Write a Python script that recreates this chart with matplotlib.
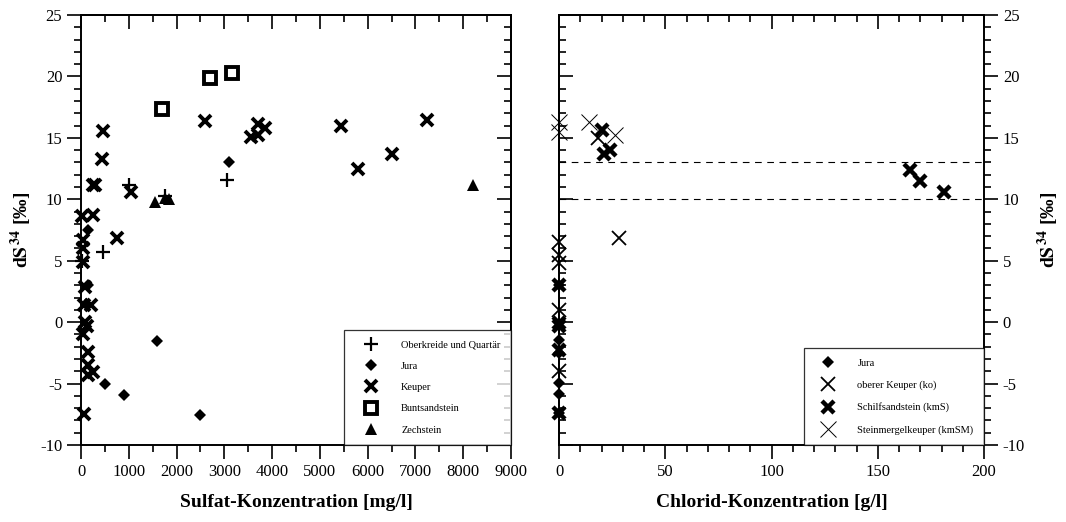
import matplotlib
matplotlib.use("Agg")
import matplotlib.pyplot as plt
from matplotlib.lines import Line2D
from matplotlib.ticker import MultipleLocator

plt.rcParams['font.family'] = ['Liberation Serif', 'DejaVu Serif']
plt.rcParams['mathtext.fontset'] = 'stix'
plt.rcParams['axes.unicode_minus'] = False

# ---------------- data: left panel (Sulfat) ----------------
ok_x = [1000, 1750, 3050, 450, 30]
ok_y = [11.2, 10.3, 11.6, 5.7, 5.0]

jura_x = [3100, 150, 150, 100, 1600, 500, 900, 2500]
jura_y = [13.0, 7.5, 3.0, 1.5, -1.5, -5.0, -5.95, -7.55]

keuper_x = [460, 440, 250, 300, 1050, 2600, 3550, 3700, 3700, 3850, 5450, 5800, 6500, 7250,
            750, 20, 250, 40, 40, 40, 80, 60, 200, 80, 120, 40, 150, 150, 250, 150, 60]
keuper_y = [15.55, 13.3, 11.2, 11.2, 10.6, 16.4, 15.1, 15.2, 16.1, 15.8, 16.0, 12.5, 13.7, 16.45,
            6.85, 8.6, 8.7, 6.7, 6.0, 4.9, 2.9, 1.4, 1.4, 0.0, -0.35, -1.0, -2.4, -3.5, -4.05, -4.3, -7.5]

bunt_x = [1700, 2700, 3150]
bunt_y = [17.35, 19.9, 20.3]

zech_x = [1550, 1750, 1850, 8200]
zech_y = [9.8, 10.1, 10.0, 11.2]

# ---------------- data: right panel (Chlorid) ----------------
rjura_x = [0, 0, 0, 0, 0, 0]
rjura_y = [3.0, -1.45, -2.5, -4.95, -5.85, -7.4]

ko_x = [18.5, 28, 0, 0, 0, 0, 0]
ko_y = [15.0, 6.85, 6.5, 5.5, 4.8, 1.0, -3.95]

kms_x = [20, 21, 24, 165, 170, 181, 0, 0, 0, 0, 0]
kms_y = [15.6, 13.7, 14.0, 12.4, 11.5, 10.6, 3.0, -0.05, -0.35, -2.3, -7.4]

kmsm_x = [0, 0, 14, 26.5]
kmsm_y = [16.3, 15.5, 16.3, 15.2]

ref_lines = [13, 10]

left_legend = ['Oberkreide und Quartär', 'Jura', 'Keuper', 'Buntsandstein', 'Zechstein']
right_legend = ['Jura', 'oberer Keuper (ko)', 'Schilfsandstein (kmS)', 'Steinmergelkeuper (kmSM)']

ylabel = r'd$\mathbf{S}^{\,\mathbf{34}}$ [‰]'

fig = plt.figure(figsize=(10.66, 5.22), dpi=100)
axL = fig.add_axes([0.076, 0.1475, 0.4034, 0.8238])
axR = fig.add_axes([0.5244, 0.1475, 0.3987, 0.8238])

st_ok = dict(marker='+', ms=10, mew=1.6, color='black', ls='none')
st_jura = dict(marker='D', ms=6.5, mew=0, color='black', ls='none')
st_keu = dict(marker='x', ms=8, mew=2.8, color='black', ls='none')
st_bunt = dict(marker='s', ms=8.5, mew=2.8, mfc='white', mec='black', ls='none')
st_zech = dict(marker='^', ms=9, mew=0, color='black', ls='none')

axL.plot(ok_x, ok_y, clip_on=False, **st_ok)
axL.plot(jura_x, jura_y, clip_on=False, **st_jura)
axL.plot(keuper_x, keuper_y, clip_on=False, **st_keu)
axL.plot(bunt_x, bunt_y, clip_on=False, **st_bunt)
axL.plot(zech_x, zech_y, clip_on=False, **st_zech)

st_rko = dict(marker='x', ms=9.5, mew=1.3, color='black', ls='none')
st_rkms = dict(marker='x', ms=8.5, mew=3.2, color='black', ls='none')
st_rkmsm = dict(marker='x', ms=11, mew=0.7, color='black', ls='none')

for y in ref_lines:
    axR.axhline(y, color='black', lw=0.8, ls=(0, (6, 5)))
axR.plot(rjura_x, rjura_y, clip_on=False, **st_jura)
axR.plot(ko_x, ko_y, clip_on=False, **st_rko)
axR.plot(kms_x, kms_y, clip_on=False, **st_rkms)
axR.plot(kmsm_x, kmsm_y, clip_on=False, **st_rkmsm)

for ax in (axL, axR):
    ax.set_ylim(-10, 25)
    for s in ax.spines.values():
        s.set_linewidth(1.4)
    ax.yaxis.set_major_locator(MultipleLocator(5))
    ax.yaxis.set_minor_locator(MultipleLocator(1))
    ax.tick_params(which='major', length=10, width=1.2, labelsize=12, direction='out')
    ax.tick_params(which='minor', length=5, width=1.2, direction='out')

axL.set_xlim(0, 9000)
axL.xaxis.set_major_locator(MultipleLocator(1000))
axL.xaxis.set_minor_locator(MultipleLocator(500))
axR.set_xlim(0, 200)
axR.xaxis.set_major_locator(MultipleLocator(50))
axR.xaxis.set_minor_locator(MultipleLocator(10))

# left panel: labelled left axis, inward ticks on top/right
axL.tick_params(axis='both', which='both', top=False, right=False)
secT = axL.secondary_xaxis('top')
secT.xaxis.set_major_locator(MultipleLocator(1000))
secT.xaxis.set_minor_locator(MultipleLocator(500))
secT.tick_params(which='major', direction='in', length=10, width=1.2, labeltop=False)
secT.tick_params(which='minor', direction='in', length=5, width=1.2)
secR = axL.secondary_yaxis('right')
secR.yaxis.set_major_locator(MultipleLocator(5))
secR.yaxis.set_minor_locator(MultipleLocator(1))
secR.tick_params(which='major', direction='in', length=10, width=1.2, labelright=False)
secR.tick_params(which='minor', direction='in', length=5, width=1.2)

# right panel: labelled right axis, inward ticks on top/left
axR.yaxis.tick_right()
axR.yaxis.set_label_position('right')
axR.tick_params(axis='both', which='both', top=False, left=False)
secT2 = axR.secondary_xaxis('top')
secT2.xaxis.set_major_locator(MultipleLocator(50))
secT2.xaxis.set_minor_locator(MultipleLocator(10))
secT2.tick_params(which='major', direction='in', length=10, width=1.2, labeltop=False)
secT2.tick_params(which='minor', direction='in', length=5, width=1.2)
secL = axR.secondary_yaxis('left')
secL.yaxis.set_major_locator(MultipleLocator(5))
secL.yaxis.set_minor_locator(MultipleLocator(1))
secL.tick_params(which='major', direction='in', length=10, width=1.2, labelleft=False)
secL.tick_params(which='minor', direction='in', length=5, width=1.2)
for s in (secT, secR, secT2, secL):
    for sp in s.spines.values():
        sp.set_linewidth(1.4)

axL.set_xlabel('Sulfat-Konzentration [mg/l]', fontsize=14, fontweight='bold', labelpad=10)
axR.set_xlabel('Chlorid-Konzentration [g/l]', fontsize=14, fontweight='bold', labelpad=10)
axL.set_ylabel(ylabel, fontsize=14, fontweight='bold', labelpad=4)
axR.set_ylabel(ylabel, fontsize=14, fontweight='bold', labelpad=8)

hL = [Line2D([], [], **st_ok), Line2D([], [], **st_jura), Line2D([], [], **st_keu),
      Line2D([], [], **st_bunt), Line2D([], [], **st_zech)]
legL = axL.legend(hL, left_legend, loc='lower right', borderaxespad=0, fontsize=7.5,
                  frameon=True, fancybox=False, edgecolor='black', borderpad=1.0,
                  labelspacing=1.15, handlelength=3.2, handletextpad=1.3)
legL.get_frame().set_linewidth(0.9)
legL.set_zorder(5)

hR = [Line2D([], [], **st_jura), Line2D([], [], **st_rko), Line2D([], [], **st_rkms),
      Line2D([], [], **st_rkmsm)]
legR = axR.legend(hR, right_legend, loc='lower right', borderaxespad=0, fontsize=7.5,
                  frameon=True, fancybox=False, edgecolor='black', borderpad=1.0,
                  labelspacing=1.2, handlelength=2.5, handletextpad=1.6)
legR.get_frame().set_linewidth(0.9)
legR.set_zorder(5)

fig.savefig('out.png', dpi=100)
